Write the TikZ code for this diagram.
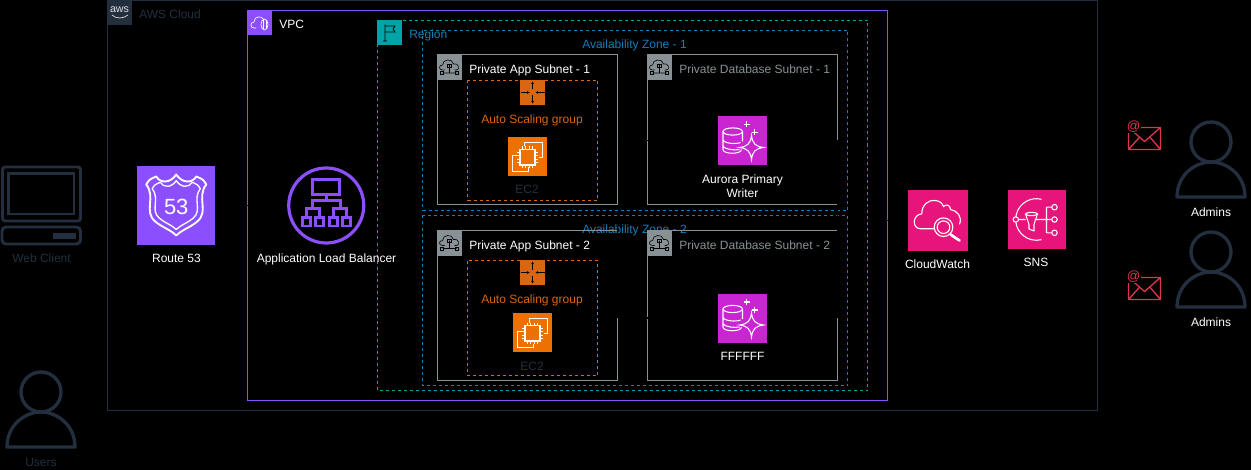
\documentclass[tikz,border=0pt]{standalone}
\usepackage{fontspec}
\setmainfont{Liberation Sans}
\usetikzlibrary{arrows.meta,calc}
\definecolor{awsink}{HTML}{232F3E}
\definecolor{vpcline}{HTML}{8C4FFF}
\definecolor{regionline}{HTML}{00A4A6}
\definecolor{zoneline}{HTML}{147EBA}
\definecolor{subnetline}{HTML}{879196}
\definecolor{scaling}{HTML}{D86613}
\definecolor{compute}{HTML}{ED7100}
\definecolor{database}{HTML}{C925D1}
\definecolor{monitor}{HTML}{E7157B}
\definecolor{mailred}{HTML}{DD344C}

\tikzset{
  pics/shieldicon/.style={code={
    \draw[white,line width=1.4pt,line join=round]
      (-30,-21) .. controls (-27,-26) .. (-20,-29) .. controls (-16,-22) and (-6,-22) .. (0,-31)
      .. controls (6,-22) and (16,-22) .. (20,-29) .. controls (27,-26) .. (30,-21)
      .. controls (20,-8) and (33,6) .. (21,16) .. controls (14,22) and (6,24) .. (0,30)
      .. controls (-6,24) and (-14,22) .. (-21,16) .. controls (-33,6) and (-20,-8) .. (-30,-21) -- cycle;
    \draw[white,line width=1pt,line join=round,scale=.8]
      (-30,-21) .. controls (-27,-26) .. (-20,-29) .. controls (-16,-22) and (-6,-22) .. (0,-31)
      .. controls (6,-22) and (16,-22) .. (20,-29) .. controls (27,-26) .. (30,-21)
      .. controls (20,-8) and (33,6) .. (21,16) .. controls (14,22) and (6,24) .. (0,30)
      .. controls (-6,24) and (-14,22) .. (-21,16) .. controls (-33,6) and (-20,-8) .. (-30,-21) -- cycle;
    \node[font=\fontsize{16.5}{18}\selectfont] (-num) at (0,1) {53};
  }},
  pics/balancericon/.style={code={
    \draw[vpcline,line width=2.1pt]
      (-14,-26) rectangle (13,-11) (0,-11) -- (0,-5)
      (-14,3) -- (-14,-5) -- (14,-5) -- (14,3)
      (-20,12) -- (-20,3) -- (-7,3) -- (-7,12)
      (7,12) -- (7,3) -- (20,3) -- (20,12);
    \foreach \bx in {-24,-11,3,16}
      \draw[vpcline,line width=2.1pt] (\bx,12) rectangle ++(8,8.5);
  }},
  pics/chipicon/.style={code={
    \draw[white,line width=.8pt]
      (-3,-10) -- (-3,-14) -- (15,-14) -- (15,1) -- (11,1)
      (-11,-1) -- (-15,-1) -- (-15,15) -- (1,15) -- (1,11);
    \draw[white,line width=.9pt] (-7.5,-7) rectangle (7.5,8.5);
    \foreach \tick in {-5,-1.7,1.7,5} {
      \draw[white,line width=.5pt] (\tick,-7) -- (\tick,-10) (\tick,8.5) -- (\tick,11.5);
      \draw[white,line width=.5pt] (-7.5,\tick+.7) -- (-10.5,\tick+.7) (7.5,\tick+.7) -- (10.5,\tick+.7);
    }
  }},
  pics/scaleicon/.style={code={
    \draw[-{Stealth[length=2pt,width=2pt]},black,line width=.5pt] (0,-3) -- (0,-11);
    \draw[-{Stealth[length=2pt,width=2pt]},black,line width=.5pt] (0,3) -- (0,11);
    \draw[-{Stealth[length=2pt,width=2pt]},black,line width=.5pt] (-12,0) -- (-3,0);
    \draw[-{Stealth[length=2pt,width=2pt]},black,line width=.5pt] (12,0) -- (3,0);
  }},
  pics/auroraicon/.style={code={
    \draw[white,line width=.8pt]
      (-19.5,-9) -- (-19.5,9) .. controls (-19.5,14) and (-1,14) .. (-1,9)
      (0,-9) -- (0,1)
      (-19.5,-1) .. controls (-19.5,3) and (-6,4) .. (-2,2)
      (-19.5,6) .. controls (-17,9) and (-8,10) .. (-3,9);
    \draw[white,line width=.8pt] (-9.75,-9) ellipse (9.75 and 3.6);
    \draw[white,fill=database,line width=.8pt]
      (9,-5) .. controls (10,3) and (13,6) .. (21,7) .. controls (13,8) and (10,11) .. (9,19)
      .. controls (8,11) and (5,8) .. (-3,7) .. controls (5,6) and (8,3) .. (9,-5) -- cycle;
    \draw[white,line width=.8pt] (1,-16) -- (7,-16) (4,-19) -- (4,-13)
      (9.3,-8) -- (15.3,-8) (12.3,-11) -- (12.3,-5);
  }},
  pics/watchicon/.style={code={
    \draw[white,line width=.85pt,line cap=round]
      (-4,8.3) -- (-17,8.3) .. controls (-26,8) and (-25,-6) .. (-15.7,-6.7)
      .. controls (-16,-16) and (-8,-21) .. (-3,-20) .. controls (2,-20) and (5,-17) .. (6,-14)
      .. controls (9,-17) and (13,-15) .. (13,-11) .. controls (20,-10) and (25,-3) .. (22,3.5);
    \draw[white,line width=.85pt] (6,6.7) circle (9.3) (6,6.7) circle (6.3);
    \draw[white,line width=2pt,line cap=round] (13,14) -- (22,20);
  }},
  pics/fanouticon/.style={code={
    \draw[white,line width=.8pt]
      (5,-20.2) arc[start angle=-76,end angle=-284,radius=20.8]
      (-20.7,0) -- (-11,0) (-2,0) -- (18,0) (10,-12.3) -- (10,13.3)
      (10,-12.3) -- (18,-12.3) (10,13.3) -- (18,13.3);
    \draw[white,line width=.8pt,line join=round]
      (-11,-5.5) -- (-7.5,5) -- (-7.5,9.5) -- (-2.5,11.5) -- (-2.5,5) -- (1,-5.5);
    \draw[white,fill=monitor,line width=.8pt] (-5,-5.5) ellipse (6 and 1.6);
    \foreach \py in {-12.3,0,13.3}
      \draw[white,fill=monitor,line width=.8pt] (18,\py) circle (2.7);
    \draw[white,fill=monitor,line width=.8pt] (-20.7,0) circle (2.7);
  }},
  pics/personicon/.style={code={
    \draw[awsink,line width=2.5pt] (0,0) circle (20);
    \draw[awsink,line width=2.5pt,line join=round]
      (-34,55) .. controls (-34,33) and (-16,20) .. (0,20)
      .. controls (16,20) and (34,33) .. (34,55) -- cycle;
  }},
  pics/mailicon/.style={code={
    \draw[mailred,line width=1pt,line join=round]
      (0,0) rectangle (32,22) (0,0) -- (16,14) -- (32,0)
      (0,22) -- (10.7,10) (32,22) -- (21.7,10);
    \node[fill=black,text=mailred,inner sep=.4pt,font=\fontsize{10}{11}\selectfont] (-at) at (5,-1) {@};
  }},
  pics/subneticon/.style={code={
    \draw[black,line width=.45pt]
      (-5,3) -- (-7,3) .. controls (-11,3) and (-11,-2) .. (-7,-2)
      .. controls (-7,-8) and (3,-9) .. (4,-3) .. controls (9,-5) and (11,3) .. (7,3) -- (5,3)
      (0,-2) -- (0,6) (-7,6) -- (7,6);
    \draw[black,line width=.45pt] (-2,-3) rectangle (2,0) (-9,4.5) rectangle (-6,7.5) (6,4.5) rectangle (9,7.5);
  }}
}

\begin{document}
\begin{tikzpicture}[x=.75pt,y=-.75pt,
  every node/.style={text=white,font=\fontsize{9}{10.5}\selectfont,inner sep=0pt},
  grouprim/.style={line width=.75pt},
  dashedrim/.style={line width=.75pt,dash pattern=on 2.25pt off 2.25pt},
  tile/.style={rectangle,minimum size=#1*.75pt},
  caption/.style={align=center},
  lead/.style={anchor=west},
  link/.style={black,line width=1pt}]

\useasboundingbox[fill=black] (0,0) rectangle (1251,470);

% Nested groups, outermost first.
\draw[grouprim,draw=awsink] (107.5,.5) rectangle (1097.5,410.5);
\draw[grouprim,draw=vpcline] (247.5,10.5) rectangle (887.5,400.5);
\draw[dashedrim,draw=regionline] (377.5,20.5) rectangle (867.5,390.5);
\node[lead,text=zoneline] (regionlabel) at (409,35) {Region};
\draw[dashedrim,draw=zoneline] (422.5,30.5) rectangle (847.5,210.5);
\draw[dashedrim,draw=zoneline] (422.5,215.5) rectangle (847.5,385.5);
\node[text=zoneline] (zonelabel1) at (634.5,45) {Availability Zone - 1};
\node[text=zoneline] (zonelabel2) at (634.5,230) {Availability Zone - 2};

\draw[grouprim,draw=subnetline] (437.5,55) rectangle (617.5,205);
\draw[grouprim,draw=subnetline] (647.5,55) rectangle (837.5,205);
\draw[grouprim,draw=subnetline] (437.5,230.5) rectangle (617.5,380.5);
\draw[grouprim,draw=subnetline] (647.5,230.5) rectangle (837.5,380.5);
\draw[dashedrim,draw=scaling] (467.5,80.5) rectangle (597.5,200.5);
\draw[dashedrim,draw=scaling] (467.5,260.5) rectangle (597.5,375.5);

\node[tile=78,fill=vpcline] (route53) at (176.25,205.5) {};
\node[circle,draw=vpcline,line width=2.4pt,minimum size=75*.75pt] (alb) at (326.25,205.5) {};
\node[tile=60,fill=monitor] (cloudwatch) at (937.5,220.5) {};
\node[tile=58,fill=monitor] (sns) at (1036.5,219.5) {};

% These links are black on the black page, so only their cuts in the group rims show.
\coordinate (appout1) at (617.5,140.5);
\coordinate (dbin1) at (647.5,140.5);
\coordinate (dbout1) at (837.5,140.5);
\coordinate (appout2) at (617.5,318);
\coordinate (dbin2) at (647.5,318);
\coordinate (dbout2) at (837.5,318);
\coordinate (appup2) at (617.5,225);
\coordinate (mailfork) at (1120,219.5);
\draw[link] (route53) -- (alb);
\draw[link] (appout1) -- (dbin1);
\draw[link] (appout2) -- (dbin2);
\draw[link] (appout2) -- (appup2);
\draw[link] (dbout1) |- (cloudwatch.west);
\draw[link] (dbout2) |- (cloudwatch.west);
\draw[link] (sns) -- (mailfork);

% Group badges sit on the corners.
\node[tile=25,fill=awsink] (awsbadge) at (119.5,12.5) {};
\node[font=\fontsize{8}{9}\selectfont,text=white!85!awsink] (awslogo) at (119.5,9.5) {aws};
\draw[white!85!awsink,line width=.5pt] (112,15) .. controls (116,19) and (123,19) .. (128,15);
\node[lead,text=awsink] (awslabel) at (139,14) {AWS Cloud};
\node[tile=25,fill=vpcline] (vpcbadge) at (259.5,22.5) {};
\draw[white,line width=.5pt] (256,28) -- (254,28) .. controls (250,28) and (250,22) .. (254,22)
  .. controls (254,16) and (262,15) .. (264,20);
\draw[white,line width=.5pt] (264.5,24.5) ellipse (3.5 and 5.5);
\draw[white,line width=.4pt] (263,20) -- (263,29) (266,20) -- (266,29);
\node[lead] (vpclabel) at (279,24) {VPC};
\node[tile=25,fill=regionline] (regionbadge) at (389.5,32.5) {};
\draw[black,line width=.6pt] (385,24.5) -- (385,41) (383,41) -- (387,41)
  (385,26) -- (395,26) -- (393,29) -- (395,32) -- (385,32);

\foreach \sx/\sy/\sname in {449.5/67.5/a1,659.5/67.5/b1,449.5/243/a2,659.5/243/b2} {
  \node[tile=25,fill=subnetline] (subnetbadge\sname) at (\sx,\sy) {};
  \pic (subneticon\sname) at (\sx,\sy-.5) {subneticon};
}
\node[lead] (applabel1) at (469,70.5) {Private App Subnet - 1};
\node[lead] (applabel2) at (469,246) {Private App Subnet - 2};
\node[lead,text=subnetline] (dblabel1) at (679,69.5) {Private Database Subnet - 1};
\node[lead,text=subnetline] (dblabel2) at (679,245) {Private Database Subnet - 2};

% Left side.
\draw[awsink,line width=2.2pt,rounded corners=2pt] (2.5,167) rectangle (80.5,221);
\draw[awsink,line width=2.2pt] (8.5,173.5) rectangle (74,214);
\draw[awsink,line width=2.2pt,rounded corners=3pt] (2,227) rectangle (80.5,244);
\node[fill=awsink,minimum width=17.25pt,minimum height=4.5pt] (webslot) at (64.5,235.5) {};
\node[text=awsink] (weblabel) at (41.5,258.5) {Web Client};
\pic (usersicon) at (41,392) {personicon};
\node[text=awsink] (userslabel) at (41,462) {Users};

\pic (route53icon) at (route53) {shieldicon};
\node (route53label) at (176.5,258) {Route 53};
\pic (albicon) at (alb) {balancericon};
\node (alblabel) at (326.5,259) {Application Load Balancer};

% Compute and database inside the subnets.
\node[tile=25,fill=scaling] (scaletile1) at (532.5,92.5) {};
\pic (scaleicon1) at (scaletile1) {scaleicon};
\node[text=scaling] (scalelabel1) at (532,120) {Auto Scaling group};
\node[tile=39,fill=compute] (ec2tile1) at (527.5,156.5) {};
\pic (ec2icon1) at (ec2tile1) {chipicon};
\node[text=awsink] (ec2label1) at (527,189.5) {EC2};
\node[tile=25,fill=scaling] (scaletile2) at (532.5,272.5) {};
\pic (scaleicon2) at (scaletile2) {scaleicon};
\node[text=scaling] (scalelabel2) at (532,300) {Auto Scaling group};
\node[tile=39,fill=compute] (ec2tile2) at (532.5,332.5) {};
\pic (ec2icon2) at (ec2tile2) {chipicon};
\node[text=awsink] (ec2label2) at (532,366) {EC2};

\node[tile=49,fill=database] (auroratile1) at (742.5,140.5) {};
\pic (auroraicon1) at (auroratile1) {auroraicon};
\node[caption] (auroralabel1) at (742.5,186) {Aurora Primary\\Writer};
\node[tile=49,fill=database] (auroratile2) at (742.5,318) {};
\pic (auroraicon2) at (auroratile2) {auroraicon};
\node (auroralabel2) at (742.5,356.5) {FFFFFF};

% Right side.
\pic (watchicon) at (cloudwatch) {watchicon};
\node (watchlabel) at (937.5,264) {CloudWatch};
\pic (fanouticon) at (sns) {fanouticon};
\node (snslabel) at (1036,262.5) {SNS};
\pic (adminicon1) at (1211,142) {personicon};
\node (adminlabel1) at (1211,212) {Admins};
\pic (adminicon2) at (1211,252) {personicon};
\node (adminlabel2) at (1211,322) {Admins};
\pic (mailicon1) at (1128.5,127.5) {mailicon};
\pic (mailicon2) at (1128.5,277.5) {mailicon};
\end{tikzpicture}
\end{document}
